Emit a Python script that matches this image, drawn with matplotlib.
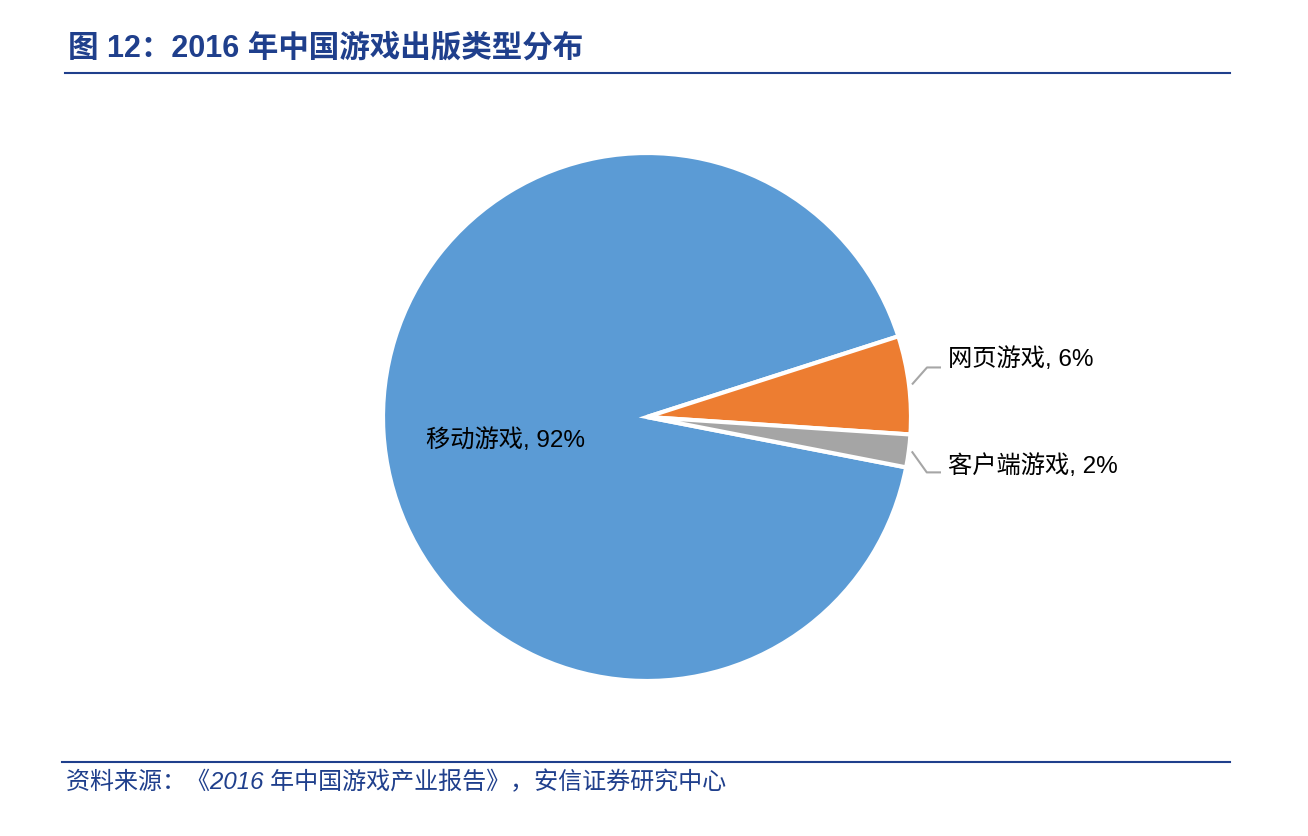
import matplotlib
matplotlib.use("Agg")
import matplotlib.pyplot as plt
import numpy as np

plt.rcParams['font.family'] = ['Liberation Sans', 'Noto Sans CJK SC', 'DejaVu Sans']

categories = ['移动游戏', '网页游戏', '客户端游戏']
values = [92, 6, 2]
colors = ['#5B9BD5', '#ED7D31', '#A5A5A5']

title = '图 12：2016 年中国游戏出版类型分布'
source = '资料来源：《2016 年中国游戏产业报告》，安信证券研究中心'

W, H = 1308, 836
fig = plt.figure(figsize=(W / 100, H / 100), dpi=100)
ax = fig.add_axes([0, 0, 1, 1])
ax.set_xlim(0, W)
ax.set_ylim(0, H)
ax.set_aspect('equal')
ax.axis('off')

cx, cy, r = 647, H - 417, 264
wedges, _ = ax.pie(values, colors=colors, startangle=-11, counterclock=False,
                   center=(cx, cy), radius=r, frame=True,
                   wedgeprops=dict(edgecolor='white', linewidth=3))
ax.set_xlim(0, W)
ax.set_ylim(0, H)
ax.axis('off')

# inside label for the big slice
ax.text(506, H - 440, f'{categories[0]}, {values[0]}%', fontsize=17.5,
        ha='center', va='center', color='black')

# outside labels with leader lines
elbow_dy = [17, -21]
for i, dy in zip([1, 2], elbow_dy):
    w = wedges[i]
    mid = np.deg2rad((w.theta1 + w.theta2) / 2)
    x0, y0 = cx + (r + 3) * np.cos(mid), cy + (r + 3) * np.sin(mid)
    x1, y1 = x0 + 15, y0 + dy
    x2 = 941
    ax.plot([x0, x1, x2], [y0, y1, y1], color='#A6A6A6', lw=1.5, solid_capstyle='butt')
    ax.text(948, y1 + (8 if dy > 0 else 6), f'{categories[i]}, {values[i]}%', fontsize=17.5,
            ha='left', va='center', color='black')

navy = '#1F3F8C'
fig.text(68 / W, 1 - 49 / H, title, fontsize=22, fontweight='bold', color=navy,
         ha='left', va='center')
ax.plot([65, 1230], [H - 73, H - 73], color=navy, lw=1.5)
ax.plot([62, 1230], [H - 762, H - 762], color=navy, lw=1.5)
fig.text(66 / W, 1 - 782 / H, source, fontsize=17.3, color=navy, style='italic',
         ha='left', va='center')

fig.savefig('out.png', dpi=100, facecolor='white')
